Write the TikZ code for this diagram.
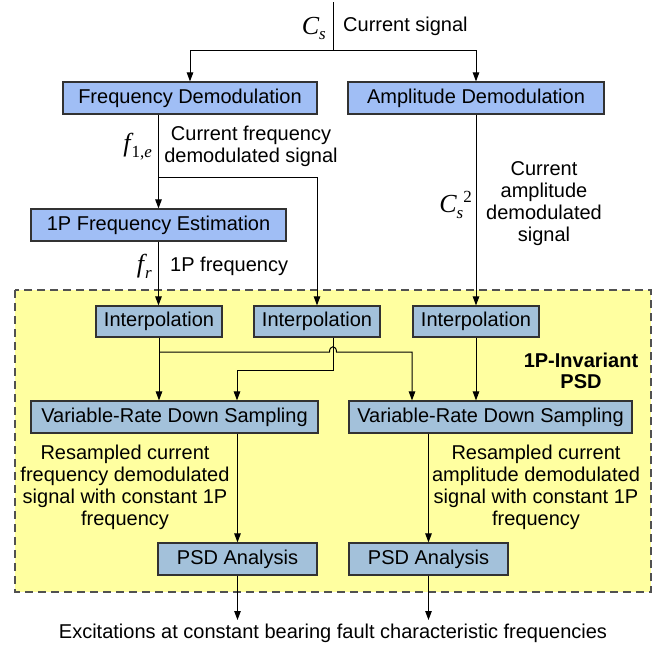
\documentclass[tikz,border=0pt]{standalone}
\usepackage{fontspec}
\setmainfont{Liberation Sans}
\newfontfamily\tms{Liberation Serif}
\usetikzlibrary{arrows.meta}
\definecolor{topblue}{RGB}{160,190,245}
\definecolor{inblue}{RGB}{163,193,218}
\definecolor{yel}{RGB}{255,255,160}
\definecolor{edge}{RGB}{50,50,50}
\begin{document}
\begin{tikzpicture}[x=1pt,y=-1pt,
  box/.style={draw=edge, line width=1.2pt, inner sep=0pt, minimum height=32pt, font=\fontsize{20}{22}\selectfont},
  topbox/.style={box, fill=topblue},
  inbox/.style={box, fill=inblue},
  conn/.style={line width=1pt, draw=black},
  arr/.style={conn, -{Triangle[length=9pt,width=6.5pt]}},
  txt/.style={font=\fontsize{20}{22}\selectfont, inner sep=0pt, align=center},
  lbl/.style={inner sep=0pt, anchor=east, font=\tms\fontsize{26}{26}\selectfont\itshape}
  ]
\useasboundingbox (0,0) rectangle (661,649);
\fill[white] (0,0) rectangle (661,649);
\draw[dash pattern=on 8pt off 5pt, fill=yel, draw=edge!85, line width=1.2pt] (15,290) rectangle (651,592);

\node[topbox, minimum width=254pt] (fd) at (190,98) {Frequency Demodulation};
\node[topbox, minimum width=256pt] (ad) at (476,98) {Amplitude Demodulation};
\node[topbox, minimum width=255pt] (fe) at (158.5,225) {1P Frequency Estimation};
\node[inbox, minimum width=126pt, minimum height=31pt] (i1) at (159,321.5) {Interpolation};
\node[inbox, minimum width=126pt, minimum height=31pt] (i2) at (317,321.5) {Interpolation};
\node[inbox, minimum width=126pt, minimum height=31pt] (i3) at (476,321.5) {Interpolation};
\node[inbox, minimum width=287pt] (v1) at (174.5,417) {Variable-Rate Down Sampling};
\node[inbox, minimum width=283pt] (v2) at (490.5,417) {Variable-Rate Down Sampling};
\node[inbox, minimum width=159pt] (p1) at (237.5,559) {PSD Analysis};
\node[inbox, minimum width=159pt] (p2) at (428.5,559) {PSD Analysis};

\coordinate (top) at (333,2);
\coordinate (j1) at (333,50);
\draw[conn] (top) -- (j1);
\draw[arr] (j1) -| (fd.north);
\draw[arr] (j1) -| (ad.north);
\draw[arr] (fd.south -| fe.north) -- (fe.north);
\coordinate (b1) at (158.5,177);
\draw[arr] (b1) -| (i2.north);
\draw[arr] (ad.south) -- (i3.north);
\draw[arr] (fe.south) -- (fe.south |- i1.north);
\draw[arr] (i1.south) -- (i1.south |- v1.north);
\coordinate (b2) at (159,352);
\coordinate (h1) at (329.5,352);
\coordinate (h2) at (336.5,352);
\coordinate (k2) at (412,352);
\draw[arr] (b2) -- (h1) .. controls (329.5,345) and (336.5,345) .. (h2) -- (k2) -- (k2 |- v2.north);
\coordinate (c1) at (333,370);
\coordinate (c2) at (237,370);
\draw[arr] (c1 |- i2.south) -- (c1) -- (c2) -- (c2 |- v1.north);
\draw[arr] (i3.south) -- (i3.south |- v2.north);
\draw[arr] (v1.south -| p1.north) -- (p1.north);
\draw[arr] (v2.south -| p2.north) -- (p2.north);
\coordinate (o1) at (237.5,620);
\coordinate (o2) at (428.5,620);
\draw[arr] (p1.south) -- (o1);
\draw[arr] (p2.south) -- (o2);

\node[txt, anchor=west] (tcs) at (343,26) {Current signal};
\node[lbl] (lcs) at (326,28) {C\raisebox{-5pt}{\fontsize{17}{17}\selectfont s}};
\node[txt] (tfd) at (251,146) {Current frequency\\demodulated signal};
\node[lbl] (lf1) at (152,147) {f\kern1pt\raisebox{-6pt}{\fontsize{17}{17}\selectfont\upshape 1,\itshape e}};
\node[txt] (tad) at (544,204) {Current\\amplitude\\demodulated\\signal};
\node[lbl] (lcs2) at (472,205) {C\raisebox{-6pt}{\fontsize{17}{17}\selectfont s}\raisebox{10pt}{\fontsize{17}{17}\selectfont\upshape 2}};
\node[lbl] (lfr) at (152,266) {f\kern1pt\raisebox{-6pt}{\fontsize{17}{17}\selectfont r}};
\node[txt, anchor=west] (tfr) at (170,266) {1P frequency};
\node[txt, font=\fontsize{20}{21}\bfseries\selectfont] (inv) at (581,371) {1P-Invariant\\PSD};
\node[txt] (r1) at (125,487) {Resampled current\\frequency demodulated\\signal with constant 1P\\frequency};
\node[txt] (r2) at (536,487) {Resampled current\\amplitude demodulated\\signal with constant 1P\\frequency};
\node[txt] (exc) at (333,633) {Excitations at constant bearing fault characteristic frequencies};
\end{tikzpicture}
\end{document}
